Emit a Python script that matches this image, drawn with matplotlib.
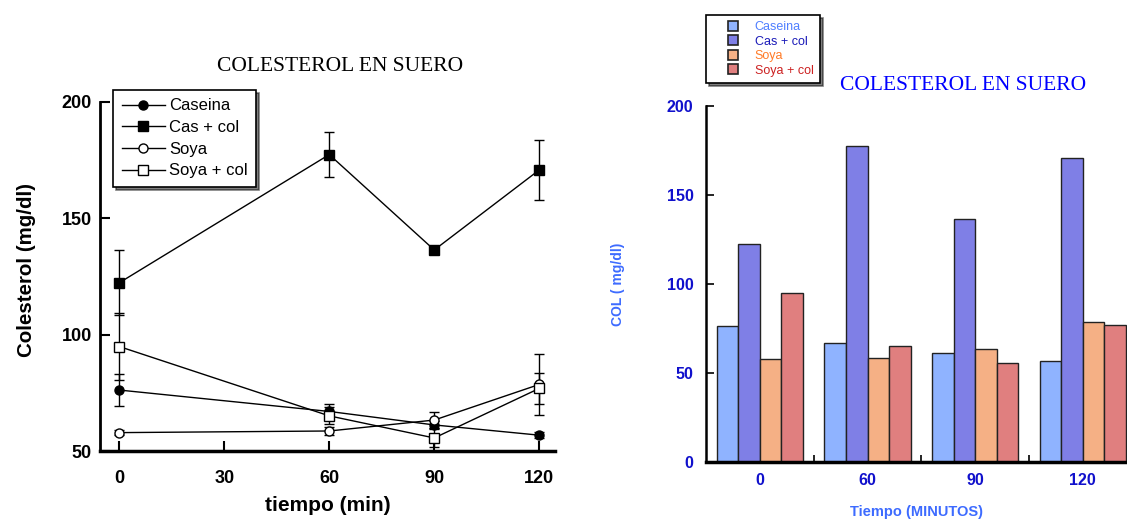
import numpy as np
import matplotlib.pyplot as plt
from matplotlib.lines import Line2D

plt.rcParams['font.family'] = ['Liberation Sans', 'DejaVu Sans']

# datos (mg/dl)
tiempo = [0, 60, 90, 120]
grupos = ['Caseina', 'Cas + col', 'Soya', 'Soya + col']
caseina = [76.2, 67.0, 61.2, 56.8]
cas_col = [122.3, 177.4, 136.4, 170.8]
soya = [57.9, 58.6, 63.3, 78.6]
soya_col = [94.9, 65.1, 55.6, 76.9]
err_caseina = [6.7, 3.4, 1.5, 1.2]
err_cas_col = [14.0, 9.8, 1.5, 13.0]
err_soya = [1.0, 1.8, 3.5, 13.0]
err_soya_col = [14.5, 3.6, 3.7, 6.5]

series = [caseina, cas_col, soya, soya_col]
errores = [err_caseina, err_cas_col, err_soya, err_soya_col]
marcadores = [('o', 'black'), ('s', 'black'), ('o', 'white'), ('s', 'white')]
colores_barras = ['#8fb3ff', '#7f7fe6', '#f5b085', '#e07f7f']
colores_texto = ['#4f7fff', '#1a1ab8', '#ff7a26', '#cc2020']

fig = plt.figure(figsize=(11.27, 5.21), dpi=100)

# ---- grafico de lineas ----
ax1 = fig.add_axes([100/1127, 70/521, 455/1127, 349/521])
for vals, err, (m, fc), lab in zip(series, errores, marcadores, grupos):
    ax1.errorbar(tiempo, vals, yerr=err, color='black', lw=1.0, marker=m,
                 mfc=fc, mec='black', ms=6.5, mew=1.0, capsize=3.5,
                 elinewidth=1.0, capthick=1.0)
ax1.set_xlim(-5.5, 124.5)
ax1.set_ylim(50, 200)
ax1.set_xticks([0, 30, 60, 90, 120])
ax1.set_yticks([50, 100, 150, 200])
ax1.spines['top'].set_visible(False)
ax1.spines['right'].set_visible(False)
ax1.spines['left'].set_linewidth(2)
ax1.spines['bottom'].set_linewidth(2.5)
ax1.tick_params(direction='in', length=7, width=1.5, labelsize=13)
ax1.tick_params(axis='x', pad=14)
ax1.tick_params(axis='y', pad=6)
for t in ax1.get_xticklabels() + ax1.get_yticklabels():
    t.set_fontweight('bold')
ax1.set_xlabel('tiempo (min)', fontsize=15, fontweight='bold', labelpad=6)
ax1.set_ylabel('Colesterol (mg/dl)', fontsize=14.8, fontweight='bold',
               labelpad=18, y=0.52)
ax1.set_title('COLESTEROL EN SUERO', family='Liberation Serif', fontsize=15.5,
              pad=22, x=0.527)
h1 = [Line2D([], [], color='black', lw=1.0, marker=m, mfc=fc, mec='black',
             ms=6.5, mew=1.0) for m, fc in marcadores]
leg1 = ax1.legend(h1, grupos, loc='upper left', bbox_to_anchor=(0.029, 1.034),
                  fontsize=12, frameon=True, fancybox=False,
                  shadow={'color': 'black'}, edgecolor='black',
                  handlelength=2.6, handletextpad=0.25, labelspacing=0.4,
                  borderpad=0.5, borderaxespad=0)
leg1.get_frame().set_linewidth(1.2)

# ---- grafico de barras ----
ax2 = fig.add_axes([706/1127, 59/521, 421/1127, 356/521])
x = np.arange(len(tiempo))
w = 0.2
for i, (vals, col) in enumerate(zip(series, colores_barras)):
    ax2.bar(x + (i - 1.5) * w, vals, w, color=col, edgecolor='#222222',
            linewidth=1.0)
ax2.set_xlim(-0.5, 3.41)
ax2.set_ylim(0, 200)
ax2.set_yticks([0, 50, 100, 150, 200])
ax2.set_xticks(x)
ax2.set_xticklabels([str(t) for t in tiempo])
ax2.set_xticks([0.5, 1.5, 2.5], minor=True)
ax2.spines['top'].set_visible(False)
ax2.spines['right'].set_visible(False)
ax2.spines['left'].set_linewidth(1.8)
ax2.spines['bottom'].set_linewidth(2.5)
ax2.tick_params(axis='y', direction='in', length=6, width=1.2, labelsize=11.5,
                labelcolor='#1010cc', pad=9)
ax2.tick_params(axis='x', which='major', length=0, labelsize=11.5,
                labelcolor='#1010cc', pad=8)
ax2.tick_params(axis='x', which='minor', direction='in', length=5, width=1.2)
for t in ax2.get_xticklabels() + ax2.get_yticklabels():
    t.set_fontweight('bold')
ax2.set_xlabel('Tiempo (MINUTOS)', fontsize=10.5, fontweight='bold',
               color='#3d6bff', labelpad=12)
ax2.set_ylabel('COL ( mg/dl)', fontsize=10, fontweight='bold',
               color='#3d6bff', labelpad=30)
fig.text(963/1127, 1 - 86/521, 'COLESTEROL EN SUERO', family='Liberation Serif',
         fontsize=15.5, color='#0000ff', ha='center', va='center')

h2 = [Line2D([], [], ls='none', marker='s', ms=7.5, mfc=c, mec='#222222',
             mew=1.2) for c in colores_barras]
leg2 = fig.legend(h2, grupos, loc='upper left',
                  bbox_to_anchor=(706/1127, 1 - 15/521), fontsize=9,
                  frameon=True, fancybox=False, shadow={'color': 'black'},
                  edgecolor='black', handlelength=3.3, handletextpad=0.1,
                  labelspacing=0.2, borderpad=0.5, borderaxespad=0)
leg2.get_frame().set_linewidth(1.2)
for t, c in zip(leg2.get_texts(), colores_texto):
    t.set_color(c)

plt.savefig('out.png', dpi=100)
